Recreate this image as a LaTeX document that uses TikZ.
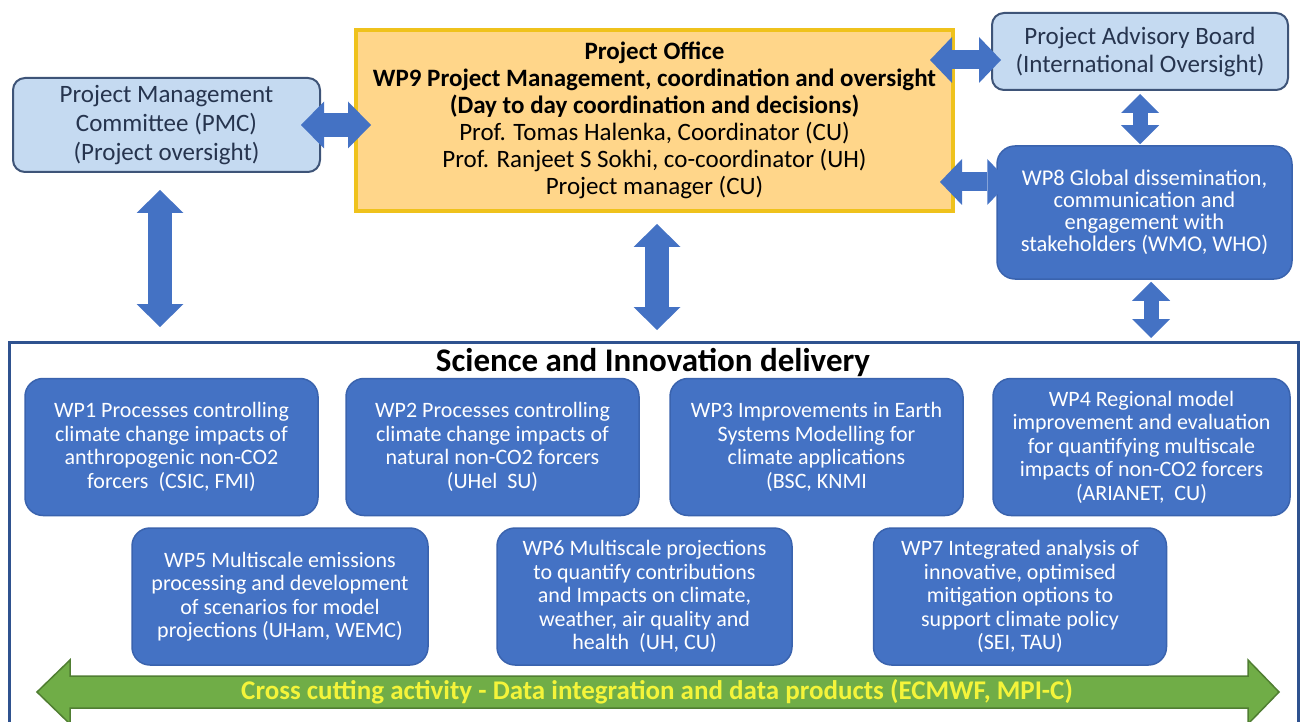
\documentclass[tikz,border=0pt]{standalone}
\usepackage{fontspec}
\setmainfont{Carlito}
\usetikzlibrary{positioning,calc,arrows.meta}
\definecolor{boardfill}{HTML}{C5DAF1}
\definecolor{boardline}{HTML}{3E5478}
\definecolor{boardtext}{HTML}{26344E}
\definecolor{officefill}{HTML}{FFD68A}
\definecolor{officeline}{HTML}{EFC21C}
\definecolor{wpblue}{HTML}{4472C4}
\definecolor{wpline}{HTML}{3A63AE}
\definecolor{frameblue}{HTML}{2F528F}
\definecolor{crossgreen}{HTML}{70AD47}
\definecolor{crossline}{HTML}{507E32}
\definecolor{crossyellow}{HTML}{F4F43A}
\tikzstyle{board}=[rectangle, rounded corners=12pt, draw=boardline, line width=2pt, fill=boardfill, text=boardtext, align=center, inner sep=0pt, font=\fontsize{25}{29}\selectfont]
\tikzstyle{office}=[rectangle, draw=officeline, line width=4pt, fill=officefill, align=center, inner sep=0pt, font=\fontsize{25}{27}\selectfont]
\tikzstyle{wp}=[rectangle, rounded corners=18pt, draw=wpline, line width=1.5pt, fill=wpblue, text=white, align=center, inner sep=0pt, minimum width=293pt, minimum height=137pt, font=\fontsize{22}{23.5}\selectfont]
\tikzstyle{frame}=[rectangle, draw=frameblue, line width=3pt, inner sep=0pt]
\tikzset{
  link/.style={line width=24pt, draw=wpblue, {Triangle[length=23pt,width=47pt,line width=0pt]}-{Triangle[length=23pt,width=47pt,line width=0pt]}},
  linkmid/.style={line width=19pt, draw=wpblue, {Triangle[length=22pt,width=46pt,line width=0pt]}-{Triangle[length=22pt,width=46pt,line width=0pt]}},
  linksmall/.style={line width=15pt, draw=wpblue, {Triangle[length=19pt,width=38pt,line width=0pt]}-{Triangle[length=19pt,width=38pt,line width=0pt]}}
}

\begin{document}
\begin{tikzpicture}[x=1pt, y=-1pt, on grid]
    \useasboundingbox (0,0) rectangle (1304,722);

    % management level
    \node[board, minimum width=307pt, minimum height=94pt] (pmc) at (166.5,125)
        {Project Management\\Committee (PMC)\\(Project oversight)};
    \node[office, minimum width=597pt, minimum height=181pt] (po) at (654.5,120.5)
        {\textbf{Project Office}\\\textbf{WP9 Project Management, coordination and oversight}\\\textbf{(Day to day coordination and decisions)}\\Prof. Tomas Halenka, Coordinator (CU)\\Prof. Ranjeet S Sokhi, co-coordinator (UH)\\Project manager (CU)};
    \node[board, minimum width=296pt, minimum height=77pt, font=\fontsize{25}{28}\selectfont] (pab) at (1140,51.5)
        {Project Advisory Board\\(International Oversight)};
    \node[wp, minimum width=295pt, minimum height=133pt, font=\fontsize{22.5}{22}\selectfont] (wp8) [below=161pt of pab, xshift=4.5pt]
        {WP8 Global dissemination,\\communication and\\engagement with\\stakeholders (WMO, WHO)};

    % science and innovation delivery
    \node[frame, anchor=north west, minimum width=1289pt, minimum height=420pt] (sci) at (8,341) {};
    \node[font=\fontsize{33}{36}\selectfont\bfseries] (scititle) at (653,362) {Science and Innovation delivery};

    \node[wp] (wp1) at (171.5,447) {WP1 Processes controlling\\climate change impacts of\\anthropogenic non-CO2\\forcers~ (CSIC, FMI)};
    \node[wp] (wp2) [right=321pt of wp1] {WP2 Processes controlling\\climate change impacts of\\natural non-CO2 forcers\\(UHel~ SU)};
    \node[wp] (wp3) [right=324pt of wp2] {WP3 Improvements in Earth\\Systems Modelling for\\climate applications\\(BSC, KNMI};
    \node[wp, minimum width=297pt] (wp4) [right=325pt of wp3] {WP4 Regional model\\improvement and evaluation\\for quantifying multiscale\\impacts of non-CO2 forcers\\(ARIANET,~ CU)};

    \node[wp, minimum width=296pt] (wp5) at (280,596.5) {WP5 Multiscale emissions\\processing and development\\of scenarios for model\\projections (UHam, WEMC)};
    \node[wp, minimum width=295pt] (wp6) [right=364.5pt of wp5] {WP6 Multiscale projections\\to quantify contributions\\and Impacts on climate,\\weather, air quality and\\health~ (UH, CU)};
    \node[wp] (wp7) [right=375.5pt of wp6] {WP7 Integrated analysis of\\innovative, optimised\\mitigation options to\\support climate policy\\(SEI, TAU)};

    % cross cutting arrow
    \draw[fill=crossgreen, draw=crossline, line width=1.5pt]
        (37,692) -- (70,660) -- (70,676) -- (1248,676) -- (1248,660) -- (1279,692)
        -- (1248,724) -- (1248,708) -- (70,708) -- (70,724) -- cycle;
    \node[text=crossyellow, font=\fontsize{27}{28}\selectfont\bfseries] (cross) at (657,692)
        {Cross cutting activity - Data integration and data products (ECMWF, MPI-C)};

    % links
    \draw[link] ($(pmc.east)+(-20,0)$) -- ($(po.west |- pmc.east)+(17,0)$);
    \draw[link] ($(pmc.south)+(-6.5,17)$) -- ($(sci.north -| pmc.south)+(-6.5,-14)$);
    \draw[link] ($(po.south)+(2.5,11)$) -- ($(sci.north -| po.south)+(2.5,-11)$);
    \draw[linkmid] ($(po.east |- pab.west)+(-25,8.5)$) -- ($(pab.west)+(10,8.5)$);
    \draw[linkmid] ($(po.east |- wp8.west)+(-15,-30.5)$) -- ($(wp8.west)+(13,-30.5)$);
    \draw[linksmall] ($(pab.south)+(0,3)$) -- ($(wp8.north -| pab.south)+(0,-1)$);
    \draw[linksmall] ($(wp8.south)+(6.5,2)$) -- ($(sci.north -| wp8.south)+(6.5,-3)$);

\end{tikzpicture}
\end{document}
